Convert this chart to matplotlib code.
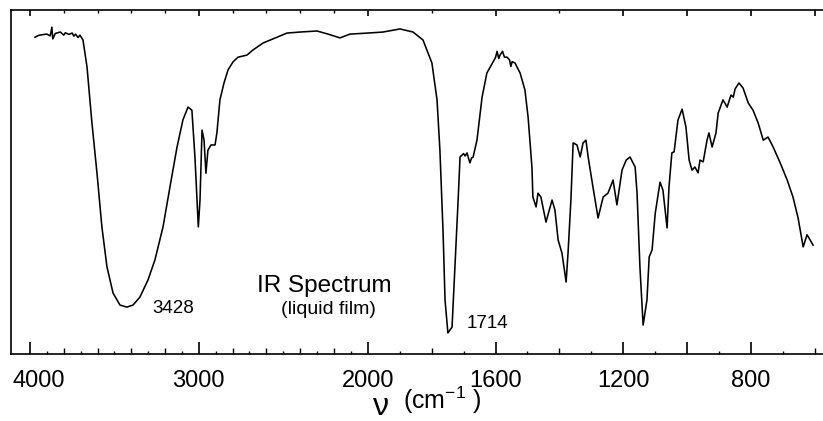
import numpy as np
import matplotlib
matplotlib.use("Agg")
import matplotlib.pyplot as plt
from matplotlib.transforms import ScaledTranslation

plt.rcParams['font.family'] = ['Liberation Sans', 'DejaVu Sans']
plt.rcParams['mathtext.default'] = 'regular'

# wavenumber (cm-1) and transmittance (%)
wavenumber = [3970, 3950, 3930, 3900, 3880, 3870, 3865, 3850, 3820, 3800, 3790, 3770,
              3750, 3740, 3730, 3715, 3704, 3686, 3662, 3633, 3603, 3574, 3544, 3508,
              3467, 3426, 3390, 3349, 3301, 3260, 3212, 3171, 3129, 3094, 3064, 3041,
              3023, 3003, 2993, 2981, 2969, 2958, 2946, 2928, 2904, 2893, 2875, 2851,
              2827, 2798, 2768, 2715, 2679, 2620, 2537, 2478, 2401, 2300, 2235, 2164,
              2105, 2000, 1952, 1899, 1858, 1827, 1799, 1783, 1774, 1764, 1758, 1749,
              1736, 1727, 1717, 1711, 1700, 1695, 1689, 1684, 1680, 1675, 1670, 1658,
              1642, 1627, 1608, 1600, 1595, 1590, 1586, 1578, 1572, 1564, 1556, 1552,
              1548, 1539, 1523, 1508, 1498, 1486, 1483, 1473, 1467, 1458, 1442, 1423,
              1414, 1404, 1392, 1379, 1373, 1364, 1357, 1345, 1335, 1326, 1317, 1310,
              1295, 1279, 1263, 1248, 1232, 1220, 1204, 1191, 1179, 1163, 1157, 1148,
              1138, 1126, 1119, 1110, 1100, 1085, 1076, 1063, 1057, 1048, 1041, 1029,
              1016, 1004, 994, 985, 976, 966, 960, 950, 938, 932, 922, 910, 903, 888,
              875, 863, 856, 850, 838, 825, 809, 794, 778, 762, 747, 731, 709, 687,
              669, 653, 637, 625, 619, 606]
transmittance = [92.1, 92.6, 92.8, 93.0, 92.5, 95.0, 91.6, 93.2, 93.6, 92.7, 93.4, 92.9,
                 93.3, 92.4, 93.0, 92.0, 92.7, 91.3, 83.4, 67.2, 52.6, 37.0, 25.4, 17.8,
                 14.3, 13.7, 14.3, 16.6, 21.6, 27.4, 37.0, 48.6, 60.2, 68.1, 71.8, 70.9,
                 57.3, 37.0, 44.8, 65.1, 62.2, 52.6, 59.3, 60.8, 60.8, 64.3, 73.9, 78.8,
                 82.6, 84.9, 86.3, 86.9, 88.4, 90.4, 92.1, 93.3, 93.6, 93.9, 93.0, 91.9,
                 93.0, 93.3, 93.6, 94.5, 93.6, 91.3, 84.6, 73.9, 59.3, 35.2, 15.8, 6.2,
                 7.9, 25.4, 44.8, 57.3, 58.3, 57.6, 58.5, 56.8, 55.6, 57.0, 57.3, 62.2,
                 74.7, 81.7, 84.9, 86.2, 88.0, 85.9, 86.9, 88.0, 86.3, 86.3, 85.5, 83.6,
                 85.0, 84.6, 81.7, 76.8, 68.9, 54.4, 45.7, 42.8, 46.8, 45.7, 38.4, 44.8,
                 41.9, 33.2, 29.4, 21.0, 29.4, 44.8, 61.4, 60.8, 57.3, 61.4, 62.2, 57.3,
                 48.6, 39.6, 45.7, 46.8, 50.6, 43.4, 53.5, 56.4, 57.3, 54.4, 46.8, 25.4,
                 8.5, 15.8, 28.3, 30.3, 41.0, 50.0, 47.7, 36.7, 48.6, 58.5, 58.8, 68.0,
                 71.2, 66.0, 56.4, 53.5, 54.4, 52.7, 56.4, 55.9, 62.2, 64.3, 60.2, 64.3,
                 70.1, 73.9, 71.8, 75.3, 74.7, 77.1, 78.8, 77.3, 73.0, 70.9, 67.2, 62.2,
                 63.1, 60.2, 55.6, 50.6, 45.7, 39.6, 31.2, 34.7, 33.8, 31.7]

tick_values = [4000, 3000, 2000, 1600, 1200, 1000, 800]
tick_labels = ['4000', '3000', '2000', '1600', '1200', '', '800']
top_ticks = [4000, 3000, 2000, 1600, 1200, 1000, 800, 600]

# IR charts change scale at 2000 cm-1
K = 1.892


def fwd(nu):
    nu = np.asarray(nu, dtype=float)
    return np.where(nu <= 2000, nu * K, 2000 * K + (nu - 2000))


def inv(u):
    u = np.asarray(u, dtype=float)
    return np.where(u <= 2000 * K, u / K, u - 2000 * K + 2000)


def overlay(fig, ax):
    a = fig.add_axes(ax.get_position(), frameon=False)
    a.set_xscale('function', functions=(fwd, inv))
    a.set_xlim(ax.get_xlim())
    a.set_ylim(ax.get_ylim())
    a.set_yticks([])
    return a


fig = plt.figure(figsize=(8.23, 4.21), dpi=100)
ax = fig.add_axes([10.7 / 823, 66.7 / 421, 812.3 / 823, 344.3 / 421])
ax.set_xscale('function', functions=(fwd, inv))
ax.plot(wavenumber, transmittance, color='black', lw=1.15)
ax.set_xlim(4114, 575)
ax.set_ylim(0, 100)

for s in ['left', 'top', 'bottom']:
    ax.spines[s].set_linewidth(1.2)
ax.spines['right'].set_visible(False)
ax.set_yticks([])

# bottom ticks: labelled, every 200, every 100
ax.set_xticks(tick_values, labels=tick_labels)
ax.set_xticks(np.arange(3800, 550, -200), minor=True)
ax.tick_params(axis='x', which='major', direction='in', length=9, width=1.2,
               top=False, labelsize=17, pad=11)
ax.tick_params(axis='x', which='minor', direction='in', length=4.5, width=1.0, top=False)

ax2 = overlay(fig, ax)
ax2.set_xticks(np.arange(3900, 550, -200), labels=[])
ax2.tick_params(axis='x', direction='in', length=2.5, width=1.0, bottom=True, top=False)

# top ticks are shorter
ax3 = overlay(fig, ax)
ax3.set_xticks(top_ticks, labels=[])
ax3.set_xticks(np.arange(3800, 550, -200), minor=True)
ax3.tick_params(axis='x', which='major', direction='in', length=4.5, width=1.2,
                bottom=False, top=True)
ax3.tick_params(axis='x', which='minor', direction='in', length=2.3, width=1.0,
                bottom=False, top=True)

# the 4000 label sits a bit right of its tick in the original
lab = ax.xaxis.get_major_ticks()[0].label1
lab.set_transform(lab.get_transform() + ScaledTranslation(9 / 100, 0, fig.dpi_scale_trans))

ax.text(3277, 12.0, '3428', fontsize=13.5, ha='left', va='baseline')
ax.text(1689, 7.6, '1714', fontsize=13.5, ha='left', va='baseline')
ax.text(2256, 18.1, 'IR Spectrum', fontsize=17.5, ha='center', va='baseline')
ax.text(2233, 11.7, '(liquid film)', fontsize=14, ha='center', va='baseline')

fig.text(373 / 823, 1 - 415 / 421, 'ν', fontsize=23, ha='left', va='baseline')
fig.text(403 / 823, 1 - 409 / 421, r'(cm$^{-1}$ )', fontsize=18, ha='left', va='baseline')

fig.savefig('out.png', dpi=100)
